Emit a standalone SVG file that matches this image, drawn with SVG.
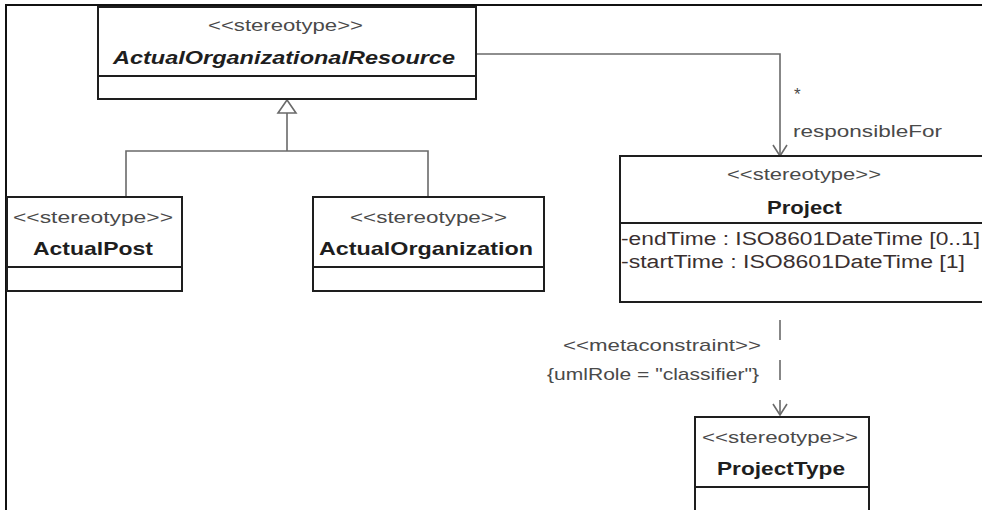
<svg xmlns="http://www.w3.org/2000/svg" width="982" height="510" viewBox="0 0 982 510">
<defs>
<style>
.box{fill:#fff;stroke:#1e1e1e;stroke-width:2}
.div{stroke:#1e1e1e;stroke-width:1.8}
.st{font-family:"Liberation Sans",Arial,sans-serif;font-size:17px;fill:#4a4a4a}
.nm{font-family:"Liberation Sans",Arial,sans-serif;font-size:19px;font-weight:bold;fill:#1e1e1e}
.at{font-family:"Liberation Sans",Arial,sans-serif;font-size:18px;fill:#3a3030}
.lb{font-family:"Liberation Sans",Arial,sans-serif;font-size:17px;fill:#4a4a4a}
.cn{fill:none;stroke:#6a6a6a;stroke-width:1.6}
</style>
<marker id="open" viewBox="-13 -8 15 16" refX="0" refY="0" markerWidth="15" markerHeight="16" markerUnits="userSpaceOnUse" orient="auto">
<path d="M-11,-7 L0,0 L-11,7" fill="none" stroke="#6a6a6a" stroke-width="1.6"/>
</marker>
</defs>
<rect width="982" height="510" fill="#fff"/>
<path d="M6,510 V5 H982" fill="none" stroke="#111" stroke-width="2"/>

<g id="connectors">
<path class="cn" d="M126,197 V151 H428 V197 M287,151 V113"/>
<polygon points="287,100 278,113 296,113" fill="#fff" stroke="#6a6a6a" stroke-width="1.6"/>
<path class="cn" d="M476,54 H780 V156" marker-end="url(#open)"/>
<path class="cn" d="M780,320 V415" stroke-dasharray="20 20" marker-end="url(#open)"/>
<text class="lb" x="794" y="100">*</text>
<text class="lb" x="793" y="137" textLength="149" lengthAdjust="spacingAndGlyphs">responsibleFor</text>
<text class="lb" x="563" y="351" textLength="198" lengthAdjust="spacingAndGlyphs">&lt;&lt;metaconstraint&gt;&gt;</text>
<text class="lb" x="547" y="380" textLength="212" lengthAdjust="spacingAndGlyphs">{umlRole = "classifier"}</text>
</g>

<g id="ActualOrganizationalResource">
<rect class="box" x="98" y="7" width="378" height="92"/>
<line class="div" x1="98" y1="76" x2="476" y2="76"/>
<text class="st" x="208" y="31" textLength="155" lengthAdjust="spacingAndGlyphs">&lt;&lt;stereotype&gt;&gt;</text>
<text class="nm" x="113" y="64" font-style="italic" textLength="342" lengthAdjust="spacingAndGlyphs">ActualOrganizationalResource</text>
</g>

<g id="ActualPost">
<rect class="box" x="7" y="197" width="175" height="94"/>
<line class="div" x1="7" y1="267" x2="182" y2="267"/>
<text class="st" x="13" y="223" textLength="160" lengthAdjust="spacingAndGlyphs">&lt;&lt;stereotype&gt;&gt;</text>
<text class="nm" x="33" y="255" textLength="120" lengthAdjust="spacingAndGlyphs">ActualPost</text>
</g>

<g id="ActualOrganization">
<rect class="box" x="313" y="197" width="231" height="94"/>
<line class="div" x1="313" y1="267" x2="544" y2="267"/>
<text class="st" x="350" y="223" textLength="157" lengthAdjust="spacingAndGlyphs">&lt;&lt;stereotype&gt;&gt;</text>
<text class="nm" x="319" y="255" textLength="214" lengthAdjust="spacingAndGlyphs">ActualOrganization</text>
</g>

<g id="Project">
<rect class="box" x="620" y="156" width="372" height="146"/>
<line class="div" x1="620" y1="223" x2="992" y2="223"/>
<text class="st" x="727" y="180" textLength="154" lengthAdjust="spacingAndGlyphs">&lt;&lt;stereotype&gt;&gt;</text>
<text class="nm" x="767" y="214" textLength="75" lengthAdjust="spacingAndGlyphs">Project</text>
<text class="at" x="621" y="245" textLength="359" lengthAdjust="spacingAndGlyphs">-endTime : ISO8601DateTime [0..1]</text>
<text class="at" x="621" y="268" textLength="344" lengthAdjust="spacingAndGlyphs">-startTime : ISO8601DateTime [1]</text>
</g>

<g id="ProjectType">
<rect class="box" x="695" y="417" width="174" height="110"/>
<line class="div" x1="695" y1="487" x2="869" y2="487"/>
<text class="st" x="702" y="443" textLength="156" lengthAdjust="spacingAndGlyphs">&lt;&lt;stereotype&gt;&gt;</text>
<text class="nm" x="717" y="475" textLength="128" lengthAdjust="spacingAndGlyphs">ProjectType</text>
</g>
</svg>
